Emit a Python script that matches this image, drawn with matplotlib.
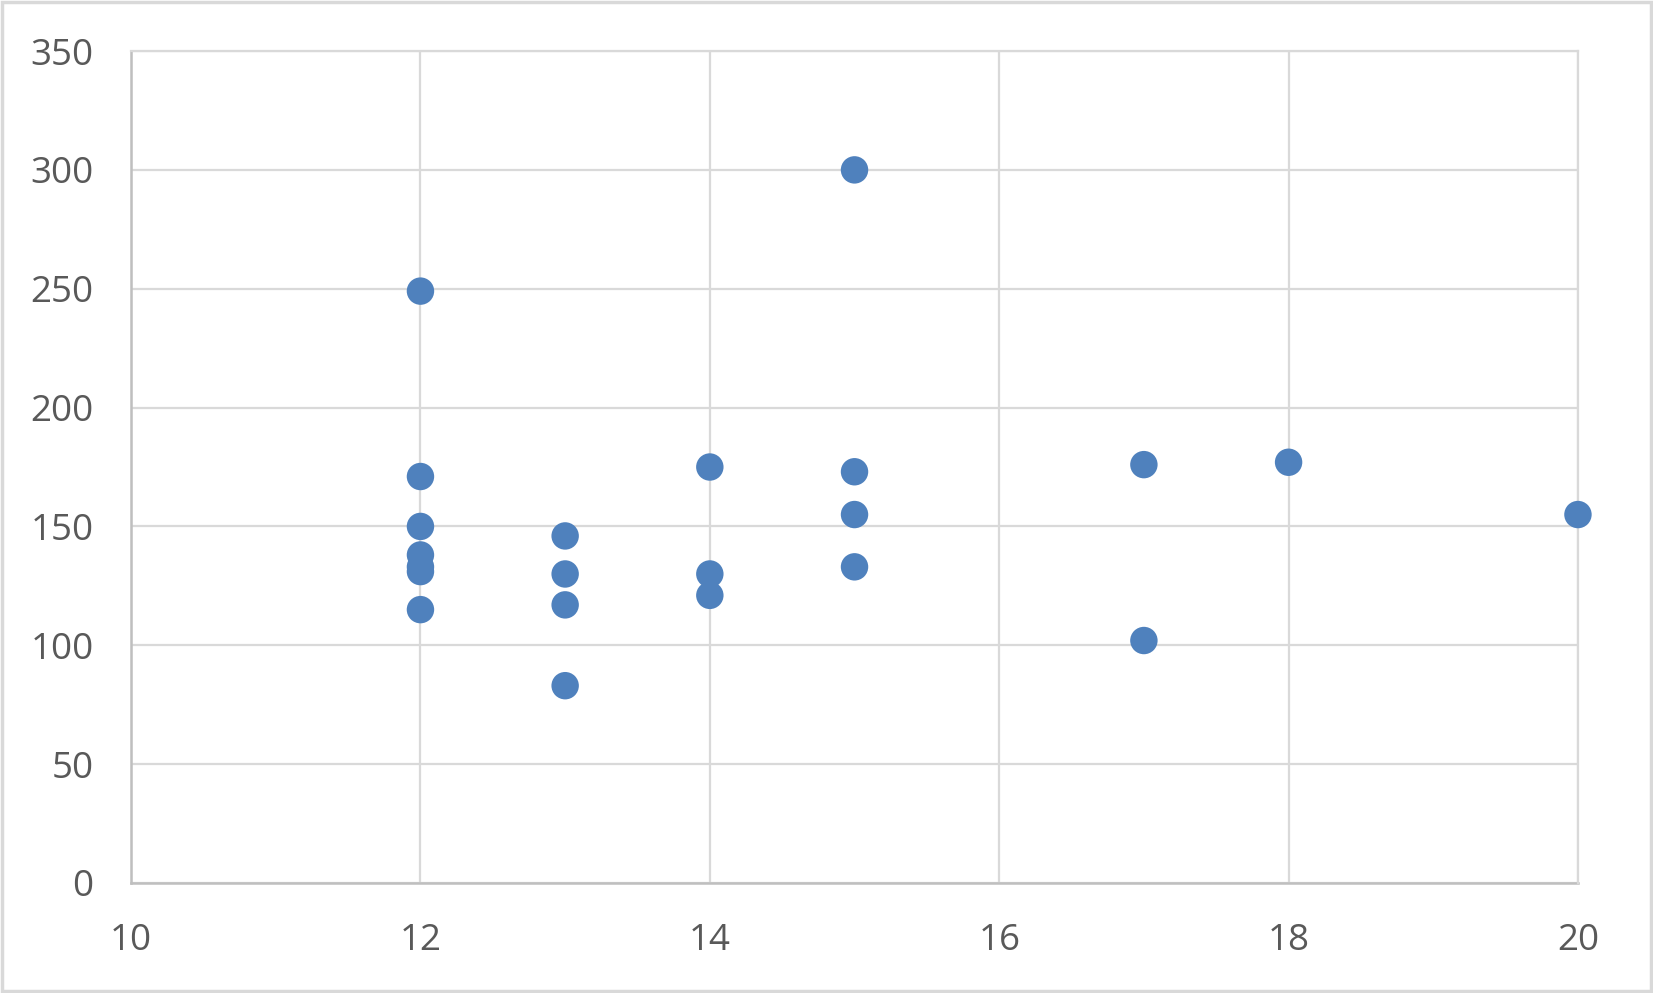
import matplotlib
matplotlib.use('Agg')
import matplotlib.pyplot as plt
from matplotlib.patches import Rectangle

# data
x_vals = [12, 12, 12, 12, 12, 12, 12,
          13, 13, 13, 13,
          14, 14, 14,
          15, 15, 15, 15,
          17, 17, 18, 20]
y_vals = [249, 171, 150, 138, 133, 131, 115,
          146, 130, 117, 83,
          175, 130, 121,
          300, 173, 155, 133,
          176, 102, 177, 155]

x_ticks = [10, 12, 14, 16, 18, 20]
y_ticks = [0, 50, 100, 150, 200, 250, 300, 350]

plt.rcParams['font.family'] = ['Open Sans', 'DejaVu Sans']

fig = plt.figure(figsize=(16.53, 9.93), dpi=100)
ax = fig.add_axes([0.0793, 0.1108, 0.8753, 0.8378])

ax.scatter(x_vals, y_vals, s=390, color='#4F81BD', edgecolors='none', zorder=3, clip_on=False)

ax.set_xlim(10, 20)
ax.set_ylim(0, 350)
ax.set_xticks(x_ticks)
ax.set_yticks(y_ticks)

ax.grid(True, color='#d9d9d9', linewidth=1.6)
ax.set_axisbelow(True)
for side in ['top', 'right']:
    ax.spines[side].set_color('#d9d9d9')
    ax.spines[side].set_linewidth(1.6)
for side in ['left', 'bottom']:
    ax.spines[side].set_color('#bfbfbf')
    ax.spines[side].set_linewidth(1.8)
    ax.spines[side].set_zorder(2)

ax.tick_params(axis='both', length=0, labelsize=26.5, labelcolor='#595959')
ax.tick_params(axis='y', pad=27)
ax.tick_params(axis='x', pad=29)

# thin grey border around the whole chart
fig.patches.append(Rectangle((0.001, 0.002), 0.998, 0.996, transform=fig.transFigure,
                             fill=False, edgecolor='#d9d9d9', linewidth=2.5))

fig.savefig('out.png', dpi=100)
